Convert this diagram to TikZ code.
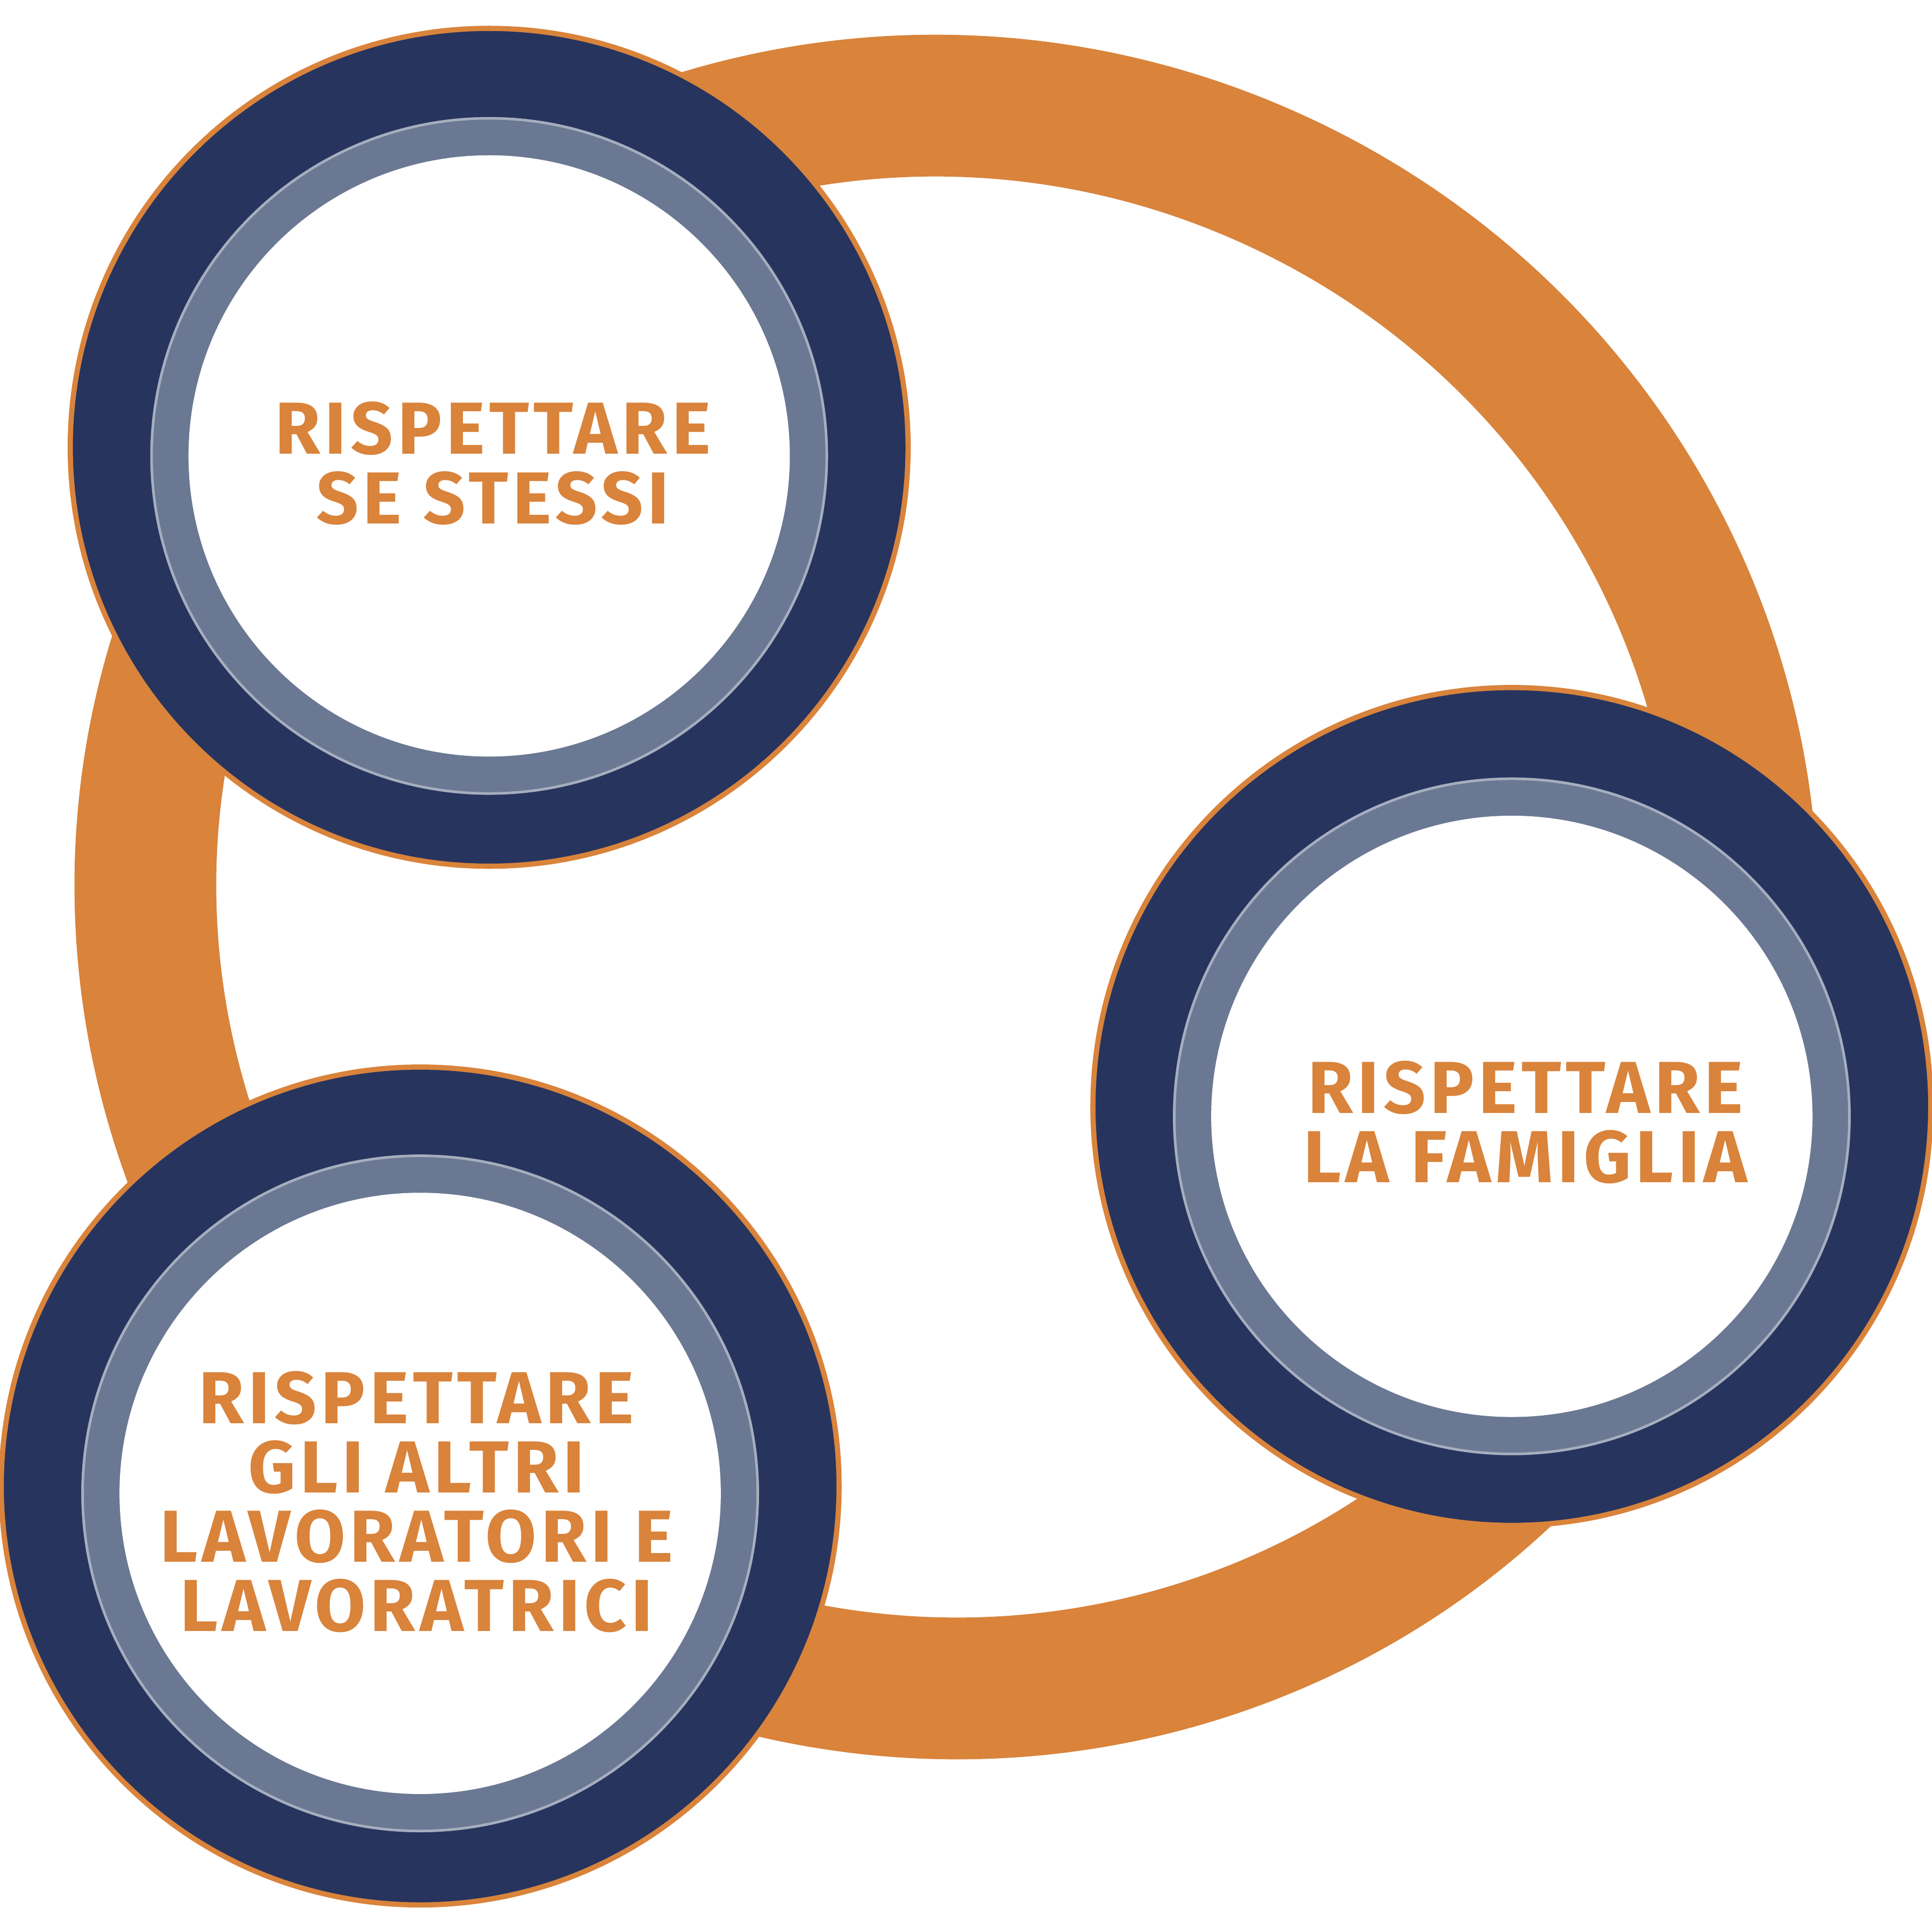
\documentclass[tikz,border=0pt]{standalone}
\usepackage{fontspec}
\setmainfont{Fira Sans}
\definecolor{org}{HTML}{D9833B}
\definecolor{navy}{HTML}{27345E}
\definecolor{slate}{HTML}{6A7893}
\begin{document}
\begin{tikzpicture}[x=0.01cm,y=-0.01cm,
  lbl/.style={text=org,align=center,font=\fontsize{17}{16}\selectfont\bfseries\addfontfeature{LetterSpace=6}}]
\useasboundingbox (0,0) rectangle (1568,1568);
\draw[org,line width=1.15cm,rotate around={-25:(768,728)}] (768,728) ellipse [x radius=652, y radius=640];
\foreach \n/\cx/\cy/\gy in {a/397/363/370, b/1227/898/906, c/341/1206/1212}{
  \fill[navy,draw=org,line width=1.2pt] (\cx,\cy) circle [radius=340];
  \fill[slate,draw=slate!60!white,line width=0.6pt] (\cx,\gy) circle [radius=274];
  \fill[white] (\cx,\gy) circle [radius=244];
}
\node[lbl] (ta) at (400,376) {RISPETTARE\\SE STESSI};
\node[lbl] (tb) at (1238,911) {RISPETTARE\\LA FAMIGLIA};
\node[lbl] (tc) at (338,1219) {RISPETTARE\\GLI ALTRI\\LAVORATORI E\\LAVORATRICI};
\end{tikzpicture}
\end{document}
